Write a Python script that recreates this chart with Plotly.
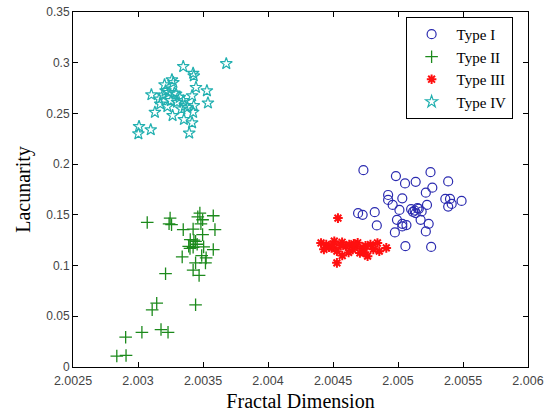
import plotly.graph_objects as go

# ---- data ----
type1_x = [2.004734, 2.004984, 2.005054, 2.005136, 2.005250, 2.005386, 2.005264, 2.005214,
           2.004924, 2.004924, 2.005033, 2.004959, 2.005223, 2.005364, 2.005400, 2.005489,
           2.005386, 2.005413, 2.004693, 2.004728, 2.004821, 2.005011, 2.005101, 2.005128,
           2.005150, 2.005182, 2.005174, 2.004992, 2.005033, 2.005065, 2.004837, 2.005236,
           2.005214, 2.004976, 2.005057, 2.005255, 2.005033, 2.005136, 2.005115, 2.005160]
type1_y = [0.1941, 0.1882, 0.1810, 0.1826, 0.1921, 0.1830, 0.1768, 0.1719,
           0.1696, 0.1647, 0.1663, 0.1598, 0.1598, 0.1657, 0.1657, 0.1637,
           0.1582, 0.1608, 0.1517, 0.1500, 0.1526, 0.1549, 0.1556, 0.1543,
           0.1566, 0.1533, 0.1451, 0.1451, 0.1412, 0.1399, 0.1396, 0.1412,
           0.1337, 0.1327, 0.1191, 0.1184, 0.1386, 0.1517, 0.1530, 0.1560]

type2_x = [2.003071, 2.003247, 2.003239, 2.003258, 2.003476, 2.003579, 2.003497, 2.003484,
           2.003348, 2.003424, 2.003592, 2.003497, 2.003402, 2.003443, 2.003390, 2.003424,
           2.003455, 2.003400, 2.003505, 2.003579, 2.003340, 2.003490, 2.003524, 2.003443,
           2.003519, 2.003424, 2.003470, 2.003212, 2.003144, 2.003109, 2.003443, 2.002905,
           2.003030, 2.003177, 2.003231, 2.002837, 2.002908, 2.003460, 2.003430]
type2_y = [0.1425, 0.1468, 0.1412, 0.1403, 0.1517, 0.1491, 0.1452, 0.1412,
           0.1354, 0.1360, 0.1354, 0.1305, 0.1256, 0.1239, 0.1190, 0.1180,
           0.1210, 0.1170, 0.1184, 0.1158, 0.1086, 0.1099, 0.1076, 0.1027,
           0.1027, 0.0956, 0.0903, 0.0920, 0.0629, 0.0564, 0.0613, 0.0294,
           0.0342, 0.0369, 0.0342, 0.0108, 0.0114, 0.1480, 0.1250]

type3_x = [2.004538, 2.004408, 2.004448, 2.004489, 2.004530, 2.004571, 2.004530, 2.004625,
           2.004679, 2.004734, 2.004788, 2.004842, 2.004766, 2.004856, 2.004910, 2.004707,
           2.004652, 2.004598, 2.004570, 2.004510, 2.004690, 2.004740, 2.004810, 2.004470,
           2.004430, 2.004620, 2.004660, 2.004560, 2.004750, 2.004500]
type3_y = [0.1468, 0.1223, 0.1207, 0.1174, 0.1142, 0.1099, 0.1027, 0.1207,
           0.1190, 0.1174, 0.1207, 0.1223, 0.1093, 0.1142, 0.1174, 0.1125,
           0.1158, 0.1190, 0.1230, 0.1240, 0.1225, 0.1130, 0.1160, 0.1180,
           0.1160, 0.1130, 0.1215, 0.1200, 0.1195, 0.1210]

type4_x = [2.003348, 2.003679, 2.003424, 2.003429, 2.003204, 2.003261, 2.003272, 2.003446,
           2.003530, 2.003103, 2.003212, 2.003239, 2.003293, 2.003321, 2.003416, 2.003163,
           2.003171, 2.003226, 2.003130, 2.003348, 2.003361, 2.003334, 2.003429, 2.003424,
           2.003538, 2.003266, 2.003353, 2.003416, 2.003008, 2.003003, 2.003098, 2.003394,
           2.003253, 2.003280, 2.003300, 2.003380, 2.003190]
type4_y = [0.2962, 0.2991, 0.2896, 0.2870, 0.2782, 0.2831, 0.2805, 0.2756,
           0.2723, 0.2684, 0.2723, 0.2707, 0.2691, 0.2658, 0.2674, 0.2642,
           0.2593, 0.2567, 0.2511, 0.2626, 0.2577, 0.2544, 0.2577, 0.2511,
           0.2603, 0.2479, 0.2440, 0.2407, 0.2371, 0.2299, 0.2339, 0.2306,
           0.2626, 0.2700, 0.2610, 0.2560, 0.2680]

x_ticks = [2.0025, 2.003, 2.0035, 2.004, 2.0045, 2.005, 2.0055, 2.006]
x_tick_labels = ["2.0025", "2.003", "2.0035", "2.004", "2.0045", "2.005", "2.0055", "2.006"]
y_ticks = [0, 0.05, 0.1, 0.15, 0.2, 0.25, 0.3, 0.35]
y_tick_labels = ["0", "0.05", "0.1", "0.15", "0.2", "0.25", "0.3", "0.35"]

fig = go.Figure()
fig.add_trace(go.Scatter(x=type1_x, y=type1_y, mode="markers", name="Type I",
                         marker=dict(symbol="circle-open", size=9, color="#2b2bb0",
                                     line=dict(width=1.2, color="#2b2bb0"))))
fig.add_trace(go.Scatter(x=type2_x, y=type2_y, mode="markers", name="Type II",
                         marker=dict(symbol="cross-thin-open", size=9, color="#1c8a1c",
                                     line=dict(width=1.3, color="#1c8a1c"))))
fig.add_trace(go.Scatter(x=type3_x, y=type3_y, mode="markers", name="Type III",
                         marker=dict(symbol="asterisk-open", size=8, color="#ff1010",
                                     line=dict(width=2, color="#ff1010"))))
fig.add_trace(go.Scatter(x=type4_x, y=type4_y, mode="markers", name="Type IV",
                         marker=dict(symbol="star-open", size=9, color="#22b0b0",
                                     line=dict(width=1.2, color="#22b0b0"))))

axis_common = dict(showline=True, linecolor="black", linewidth=1, mirror="allticks",
                   ticks="inside", ticklen=5, tickcolor="black", showgrid=False,
                   zeroline=False)

fig.update_xaxes(range=[2.0025, 2.006], tickvals=x_ticks, ticktext=x_tick_labels,
                 ticklabelstandoff=2,
                 tickfont=dict(family="Liberation Sans, Arial", size=12.5, color="#444444"),
                 title=dict(text="Fractal Dimension", standoff=6,
                            font=dict(family="Liberation Serif, Times New Roman", size=20, color="black")),
                 **axis_common)
fig.update_yaxes(range=[0, 0.35], tickvals=y_ticks, ticktext=y_tick_labels,
                 tickfont=dict(family="Liberation Sans, Arial", size=12, color="#444444"),
                 title=dict(text="Lacunarity", standoff=10,
                            font=dict(family="Liberation Serif, Times New Roman", size=20, color="black")),
                 **axis_common)

fig.update_layout(
    width=553, height=412,
    margin=dict(l=73, r=25, t=12, b=45, autoexpand=False),
    paper_bgcolor="white", plot_bgcolor="white",
    legend=dict(x=0.731, y=0.986, xanchor="left", yanchor="top",
                bgcolor="white", bordercolor="black", borderwidth=1,
                itemwidth=40, tracegroupgap=0,
                font=dict(family="Liberation Serif, Times New Roman", size=15, color="black")),
)

fig.write_html("out.html", config={"displayModeBar": False},
               post_script="document.body.style.margin='0';document.body.style.overflow='hidden';")
